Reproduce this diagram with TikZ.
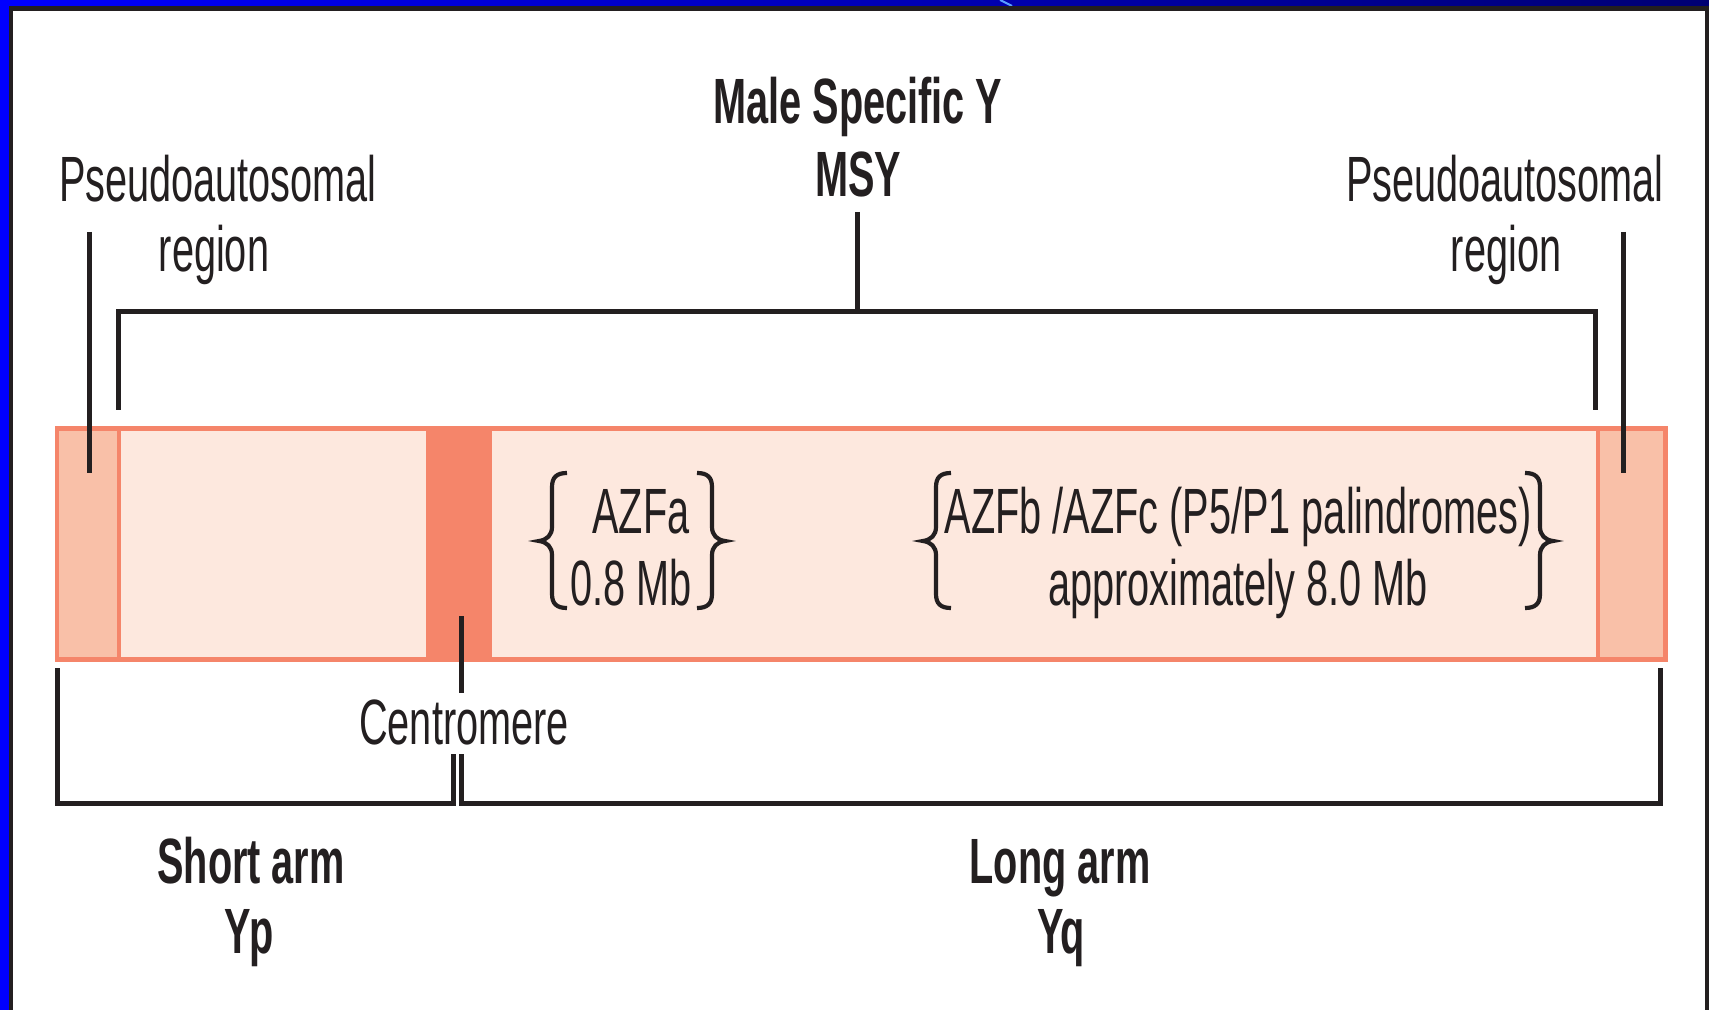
\documentclass[tikz,border=0pt]{standalone}
\usepackage{fontspec}
\setmainfont{Liberation Sans}[FakeStretch=0.62]
\definecolor{salmon}{HTML}{F5856A}
\definecolor{parfill}{HTML}{F9C0A8}
\definecolor{lightfill}{HTML}{FDE8DE}
\definecolor{ink}{HTML}{231F20}
\definecolor{navy}{RGB}{0,0,115}
\definecolor{glint}{HTML}{5AA0FF}
\tikzset{
  lbl/.style={anchor=base, inner sep=0pt, text=ink, font=\fontsize{32}{36}\selectfont},
  blbl/.style={lbl, font=\fontsize{32}{36}\selectfont\bfseries},
  leader/.style={draw=ink, line width=2.5pt, line join=miter, line cap=butt},
  bracestroke/.style={draw=ink, line width=2.1pt},
  lbracepic/.pic={\draw[bracestroke] (15,-68) .. controls (5,-68) and (0,-64) .. (0,-54) -- (0,-14) .. controls (0,-6) and (-5,-1) .. (-13,0) .. controls (-5,1) and (0,6) .. (0,14) -- (0,53) .. controls (0,63) and (5,67) .. (15,67);},
  rbracepic/.pic={\draw[bracestroke] (-15,-68) .. controls (-5,-68) and (0,-64) .. (0,-54) -- (0,-14) .. controls (0,-6) and (5,-1) .. (13,0) .. controls (5,1) and (0,6) .. (0,14) -- (0,53) .. controls (0,63) and (-5,67) .. (-15,67);}
}
\begin{document}
\begin{tikzpicture}[x=0.5pt, y=-0.5pt]
\useasboundingbox (0,0) rectangle (1709,1010);
% frame
\fill[white] (0,0) rectangle (1709,1010);
\shade[left color=blue, right color=navy] (0,0) rectangle (1709,6);
\draw[glint, line width=1pt] (1000,0) -- (1012,6);
\fill[ink] (0,6) rectangle (1709,11);
\fill[blue] (0,0) rectangle (9,1010);
\fill[ink] (9,6) rectangle (13,1010);
\fill[ink] (1705,6) rectangle (1709,1010);
% chromosome bar
\fill[salmon] (55,426) rectangle (1668,662);
\fill[parfill] (59,431) rectangle (117,657);
\fill[lightfill] (121,431) rectangle (426,657);
\fill[lightfill] (492,431) rectangle (1596,657);
\fill[parfill] (1600,431) rectangle (1663,657);
% coordinates
\coordinate (parLtop) at (89,232);
\coordinate (parLbot) at (89,473);
\coordinate (parRtop) at (1623,232);
\coordinate (parRbot) at (1623,473);
\coordinate (msyTop) at (857,212);
\coordinate (msyMid) at (857,312);
\coordinate (msyL) at (118.5,312);
\coordinate (msyLb) at (118.5,410);
\coordinate (msyR) at (1595,312);
\coordinate (msyRb) at (1595,410);
\coordinate (cenTop) at (461,616);
\coordinate (cenBot) at (461,693);
\coordinate (spA) at (57,668);
\coordinate (spB) at (57,803);
\coordinate (spC) at (453,803);
\coordinate (spD) at (453,754);
\coordinate (lqA) at (461,754);
\coordinate (lqB) at (461,803);
\coordinate (lqC) at (1660,803);
\coordinate (lqD) at (1660,668);
% labels
\node[lbl] (parLa) at (218,202) {Pseudoautosomal};
\node[lbl] (parLb) at (214,272) {region};
\node[lbl] (parRa) at (1505,202) {Pseudoautosomal};
\node[lbl] (parRb) at (1506,272) {region};
\node[blbl] (msya) at (858,124) {Male Specific Y};
\node[blbl] (msyb) at (858,197) {MSY};
\node[lbl] (cen) at (464,744) {Centromere};
\node[blbl] (shorta) at (251,883) {Short arm};
\node[blbl] (shortb) at (249,953) {Yp};
\node[blbl] (longa) at (1060,883) {Long arm};
\node[blbl] (longb) at (1061,953) {Yq};
\node[lbl] (azfa1) at (641,534) {AZFa};
\node[lbl] (azfa2) at (631,605) {0.8 Mb};
\node[lbl] (azfb1) at (1238,534) {AZFb /AZFc (P5/P1 palindromes)};
\node[lbl] (azfb2) at (1238,605) {approximately 8.0 Mb};
% leaders
\draw[leader] (parLtop) -- (parLbot);
\draw[leader] (parRtop) -- (parRbot);
\draw[leader] (msyTop) -- (msyMid);
\draw[leader] (msyLb) -- (msyL) -- (msyR) -- (msyRb);
\draw[leader] (cenTop) -- (cenBot);
\draw[leader] (spA) -- (spB) -- (spC) -- (spD);
\draw[leader] (lqA) -- (lqB) -- (lqC) -- (lqD);
% braces
\pic at (552,541) {lbracepic};
\pic at (712,541) {rbracepic};
\pic at (936,541) {lbracepic};
\pic at (1540,541) {rbracepic};
\end{tikzpicture}
\end{document}
